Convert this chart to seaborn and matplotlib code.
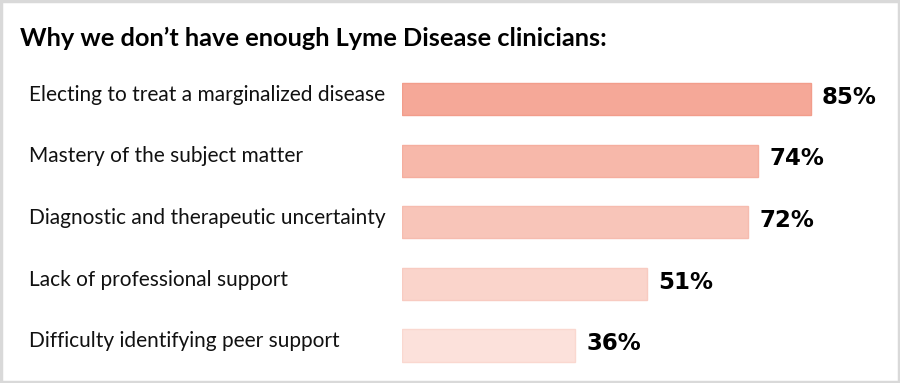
import matplotlib
matplotlib.use("Agg")
import matplotlib.pyplot as plt
import matplotlib.transforms as mtransforms
from matplotlib.patches import Rectangle
import seaborn as sns
import pandas as pd

categories = [
    "Electing to treat a marginalized disease",
    "Mastery of the subject matter",
    "Diagnostic and therapeutic uncertainty",
    "Lack of professional support",
    "Difficulty identifying peer support",
]
values = [85, 74, 72, 51, 36]
value_labels = ["85%", "74%", "72%", "51%", "36%"]
colors = ["#f5a898", "#f7b8aa", "#f8c5b9", "#fad4cb", "#fce1db"]
edge_colors = ["#f29d8b", "#f5ae9f", "#f6bcaf", "#f8cbc1", "#fad8d0"]
title = "Why we don\u2019t have enough Lyme Disease clinicians:"

sns.set_theme(style="white")
plt.rcParams["font.family"] = ["Lato", "DejaVu Sans"]

W, H = 900, 383
fig = plt.figure(figsize=(9, 3.83), dpi=100)
fig.patch.set_facecolor("white")

ax_left = 402 / W
ax_right = 897 / W
top_px = 68.2
bot_px = 376.3
ax = fig.add_axes([ax_left, 1 - bot_px / H, ax_right - ax_left, (bot_px - top_px) / H])

df = pd.DataFrame({"category": categories, "value": values})
sns.barplot(data=df, x="value", y="category", hue="category", palette=colors,
            legend=False, width=0.52, ax=ax, orient="h", saturation=1)
for p, ec in zip(ax.patches, edge_colors):
    p.set_edgecolor(ec)
    p.set_linewidth(1.0)

ax.set_xlim(0, 495 / 4.81)
ax.set_ylim(4.5, -0.5)
ax.axis("off")

# value labels
for i, (v, lab) in enumerate(zip(values, value_labels)):
    ax.text(v + 2.3, i - 0.03, lab, ha="left", va="center",
            fontsize=16.5, fontweight="heavy", color="black",
            family=["DejaVu Sans"])

# category labels (left aligned in figure)
trans = mtransforms.blended_transform_factory(fig.transFigure, ax.transData)
for i, c in enumerate(categories):
    ax.text(29 / W, i - 0.07, c, transform=trans, ha="left", va="center",
            fontsize=15, color="#111111")

fig.text(20 / W, 1 - 38 / H, title, ha="left", va="center",
         fontsize=18.3, fontweight="bold", color="black")

# border
fig.patches.append(Rectangle((0.0015, 0.003), 0.997, 0.994, transform=fig.transFigure,
                             fill=False, edgecolor="#d9d9d9", linewidth=2.5))

fig.savefig("out.png", dpi=100, facecolor="white")
